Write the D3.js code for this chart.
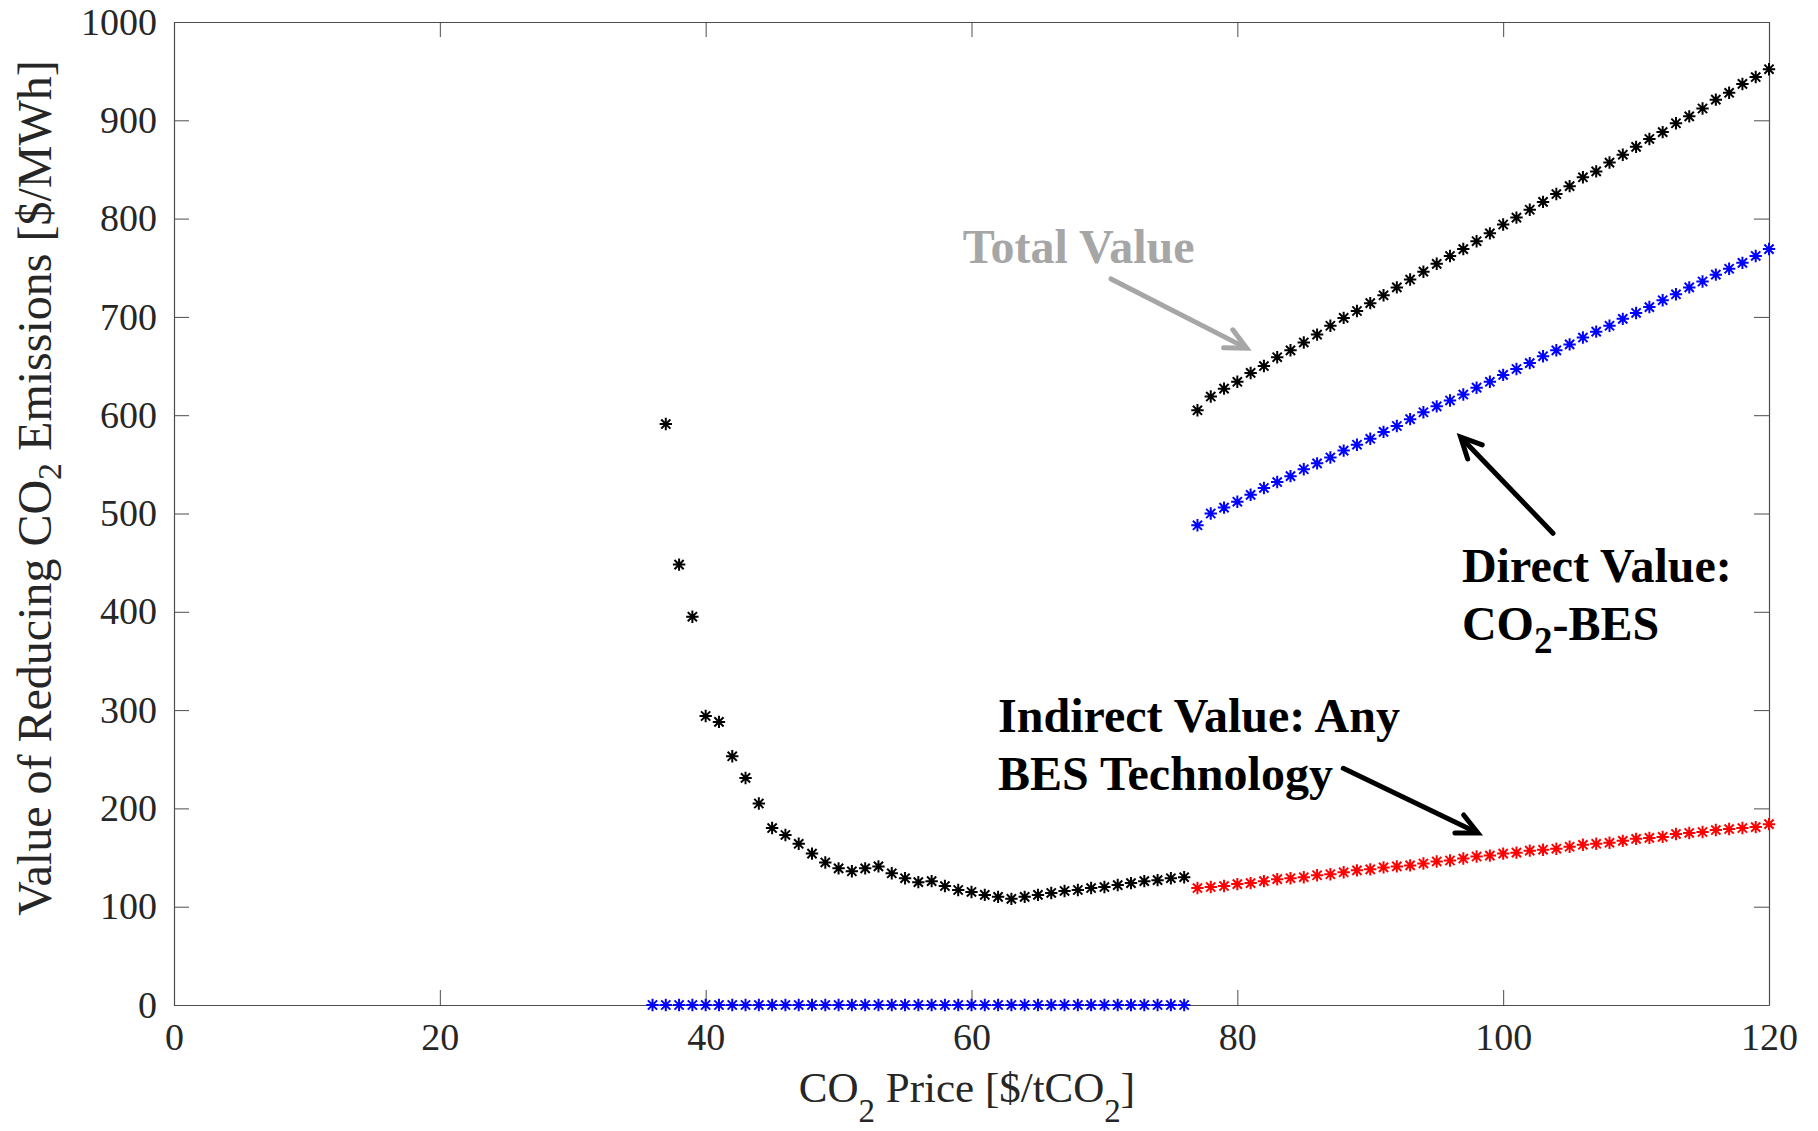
<!DOCTYPE html>
<html>
<head>
<meta charset="utf-8">
<script src="https://cdn.jsdelivr.net/npm/d3@7"></script>
<style>
  html, body { margin: 0; padding: 0; background: #ffffff; }
  svg { display: block; }
</style>
</head>
<body>
<svg id="chart" width="1818" height="1131"></svg>
<script>
// CO2 price grid ($/tCO2) for each series
const priceZeroDirect = [36, 37, 38, 39, 40, 41, 42, 43, 44, 45, 46, 47, 48, 49, 50, 51, 52, 53, 54, 55, 56,
  57, 58, 59, 60, 61, 62, 63, 64, 65, 66, 67, 68, 69, 70, 71, 72, 73, 74, 75, 76];
const priceLowTotal = [37, 38, 39, 40, 41, 42, 43, 44, 45, 46, 47, 48, 49, 50, 51, 52, 53, 54, 55, 56,
  57, 58, 59, 60, 61, 62, 63, 64, 65, 66, 67, 68, 69, 70, 71, 72, 73, 74, 75, 76];
const priceHigh = [77, 78, 79, 80, 81, 82, 83, 84, 85, 86, 87, 88, 89, 90, 91, 92, 93, 94, 95, 96, 97, 98,
  99, 100, 101, 102, 103, 104, 105, 106, 107, 108, 109, 110, 111, 112, 113, 114, 115, 116, 117, 118, 119, 120];

// Value of reducing CO2 emissions ($/MWh)
const directZero = [0, 0, 0, 0, 0, 0, 0, 0, 0, 0, 0, 0, 0, 0, 0, 0, 0, 0, 0, 0, 0,
  0, 0, 0, 0, 0, 0, 0, 0, 0, 0, 0, 0, 0, 0, 0, 0, 0, 0, 0, 0];
const totalLow = [591, 448, 395, 294, 288, 253, 231, 205, 180, 173, 164, 154, 145, 139, 136, 139, 141, 134,
  129, 125, 126, 121, 117, 115, 112, 110, 108, 110, 112, 114, 116, 117, 119, 120, 122, 124, 126, 127, 129, 130];
const totalHigh = [605, 619, 627, 634, 643, 650, 659, 666, 674, 682, 691, 699, 706, 714, 722, 730, 738, 746,
  754, 762, 769, 777, 785, 794, 801, 809, 817, 825, 833, 842, 848, 857, 865, 873, 881, 888, 897, 904,
  912, 921, 928, 937, 944, 952];
const directHigh = [488, 500, 506, 512, 519, 526, 532, 538, 545, 551, 557, 564, 570, 576, 583, 589, 596, 603,
  609, 615, 621, 628, 634, 641, 647, 653, 660, 666, 672, 679, 685, 691, 698, 704, 710, 717, 723, 730,
  736, 743, 749, 755, 762, 769];
const indirectHigh = [119, 120, 121, 123, 124, 126, 128, 129, 130, 132, 133, 135, 137, 138, 140, 141, 142, 144,
  146, 147, 149, 151, 152, 154, 155, 157, 158, 159, 161, 163, 164, 165, 167, 169, 170, 171, 174, 175,
  176, 178, 179, 180, 181, 184];

// Axis ticks
const xTicks = [0, 20, 40, 60, 80, 100, 120];
const yTicks = [0, 100, 200, 300, 400, 500, 600, 700, 800, 900, 1000];

const serif = "'Liberation Serif', 'Times New Roman', Times, serif";
const axisColor = "#262626";

const svg = d3.select("#chart");
svg.append("rect").attr("width", 1818).attr("height", 1131).attr("fill", "#ffffff");

const plot = { left: 174, right: 1769, top: 22, bottom: 1005 };
const x = d3.scaleLinear().domain([0, 120]).range([plot.left, plot.right]);
const y = d3.scaleLinear().domain([0, 1000]).range([plot.bottom, plot.top]);

// Axes with inward ticks on all four sides (box on)
const gx = svg.append("g").attr("transform", `translate(0,${plot.bottom})`)
  .call(d3.axisBottom(x).tickValues(xTicks).tickFormat(d3.format("d"))
    .tickSizeInner(-15).tickSizeOuter(0));
gx.selectAll("text").attr("y", 45).attr("dy", null);

const gy = svg.append("g").attr("transform", `translate(${plot.left},0)`)
  .call(d3.axisLeft(y).tickValues(yTicks).tickFormat(d3.format("d"))
    .tickSizeInner(-15).tickSizeOuter(0).tickPadding(17));

const gTop = svg.append("g").attr("transform", `translate(0,${plot.top})`)
  .call(d3.axisTop(x).tickValues(xTicks).tickFormat("").tickSizeInner(-15).tickSizeOuter(0));
const gRight = svg.append("g").attr("transform", `translate(${plot.right},0)`)
  .call(d3.axisRight(y).tickValues(yTicks).tickFormat("").tickSizeInner(-15).tickSizeOuter(0));

[gx, gy, gTop, gRight].forEach(g => {
  g.selectAll("path.domain").attr("stroke", "#4d4d4d").attr("stroke-width", 1.2);
  g.selectAll(".tick line").attr("stroke", "#4d4d4d").attr("stroke-width", 1);
  g.selectAll("text")
    .attr("font-family", serif).attr("font-size", 38).attr("fill", axisColor);
});

// Asterisk marker (+ and x combined)
const r = 6.2, rd = 4.6;
const starPath = `M${-r},0L${r},0M0,${-r}L0,${r}M${-rd},${-rd}L${rd},${rd}M${-rd},${rd}L${rd},${-rd}`;

function drawSeries(prices, values, color, cls) {
  const pts = prices.map((p, i) => ({ p, v: values[i] }));
  svg.append("g").attr("class", cls)
    .selectAll("path").data(pts).join("path")
    .attr("transform", d => `translate(${x(d.p)},${y(d.v)})`)
    .attr("d", starPath)
    .attr("fill", "none")
    .attr("stroke", color)
    .attr("stroke-width", 2)
    .attr("stroke-linecap", "butt");
}

drawSeries(priceZeroDirect, directZero, "#0000ff", "direct-zero");
drawSeries(priceLowTotal, totalLow, "#000000", "total-low");
drawSeries(priceHigh, totalHigh, "#000000", "total-high");
drawSeries(priceHigh, directHigh, "#0000ff", "direct-high");
drawSeries(priceHigh, indirectHigh, "#ff0000", "indirect-high");

// Axis titles
svg.append("text")
  .attr("x", 967).attr("y", 1102)
  .attr("text-anchor", "middle")
  .attr("font-family", serif).attr("font-size", 43).attr("fill", axisColor)
  .call(t => {
    t.append("tspan").text("CO");
    t.append("tspan").attr("font-size", 33).attr("dy", 20).text("2");
    t.append("tspan").attr("dy", -20).text(" Price [$/tCO");
    t.append("tspan").attr("font-size", 33).attr("dy", 20).text("2");
    t.append("tspan").attr("dy", -20).text("]");
  });

svg.append("text")
  .attr("transform", "translate(51,488) rotate(-90)")
  .attr("text-anchor", "middle")
  .attr("font-family", serif).attr("font-size", 48).attr("fill", axisColor)
  .call(t => {
    t.append("tspan").text("Value of Reducing CO");
    t.append("tspan").attr("font-size", 34).attr("dy", 10).text("2");
    t.append("tspan").attr("dy", -10).text(" Emissions [$/MWh]");
  });

// Annotations
function arrow(x1, y1, x2, y2, color) {
  const px1 = x(x1), py1 = y(y1), px2 = x(x2), py2 = y(y2);
  const ang = Math.atan2(py2 - py1, px2 - px1);
  const len = 23, spread = 26 * Math.PI / 180;
  const b1 = [px2 - len * Math.cos(ang - spread), py2 - len * Math.sin(ang - spread)];
  const b2 = [px2 - len * Math.cos(ang + spread), py2 - len * Math.sin(ang + spread)];
  const g = svg.append("g").attr("stroke", color).attr("fill", "none")
    .attr("stroke-width", 5);
  g.append("line").attr("x1", px1).attr("y1", py1)
    .attr("x2", px2 - 3 * Math.cos(ang)).attr("y2", py2 - 3 * Math.sin(ang))
    .attr("stroke-linecap", "round");
  g.append("path")
    .attr("d", `M${b1[0]},${b1[1]}L${px2},${py2}L${b2[0]},${b2[1]}`)
    .attr("stroke-linejoin", "miter").attr("stroke-linecap", "round");
}

function label(xv, yv, lines, color) {
  const t = svg.append("text")
    .attr("font-family", serif).attr("font-size", 48).attr("font-weight", "bold")
    .attr("fill", color);
  lines.forEach((parts, i) => {
    parts.forEach((part, j) => {
      const ts = t.append("tspan").text(part.text);
      if (j === 0) ts.attr("x", x(xv)).attr("y", y(yv) + i * 58);
      if (part.sub) ts.attr("font-size", 37).attr("dy", 13);
      else if (j > 0 && parts[j - 1].sub) ts.attr("dy", -13);
    });
  });
}

label(59.35, 754.8, [[{ text: "Total Value" }]], "#a6a6a6");
arrow(70.5, 738.6, 80.7, 668.1, "#a6a6a6");

label(96.9, 430.6, [[{ text: "Direct Value:" }],
  [{ text: "CO" }, { text: "2", sub: true }, { text: "-BES" }]], "#000000");
arrow(103.75, 479.9, 96.8, 577.8, "#000000");

label(62.0, 278.0, [[{ text: "Indirect Value: Any" }], [{ text: "BES Technology" }]], "#000000");
arrow(87.97, 240.8, 98.1, 175.0, "#000000");
</script>
</body>
</html>
